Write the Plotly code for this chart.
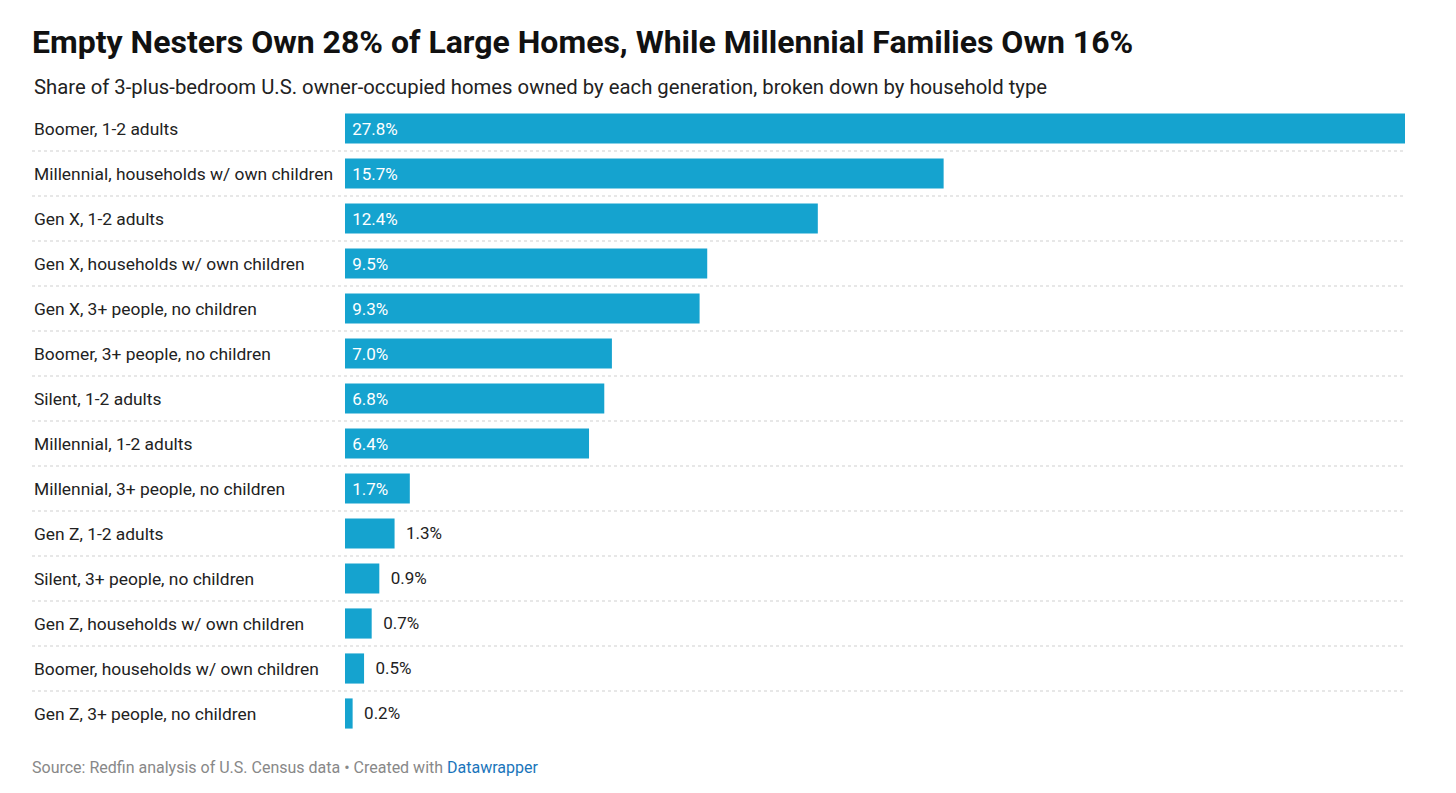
import plotly.graph_objects as go

categories = [
    "Boomer, 1-2 adults",
    "Millennial, households w/ own children",
    "Gen X, 1-2 adults",
    "Gen X, households w/ own children",
    "Gen X, 3+ people, no children",
    "Boomer, 3+ people, no children",
    "Silent, 1-2 adults",
    "Millennial, 1-2 adults",
    "Millennial, 3+ people, no children",
    "Gen Z, 1-2 adults",
    "Silent, 3+ people, no children",
    "Gen Z, households w/ own children",
    "Boomer, households w/ own children",
    "Gen Z, 3+ people, no children",
]
shares = [27.8, 15.7, 12.4, 9.5, 9.3, 7.0, 6.8, 6.4, 1.7, 1.3, 0.9, 0.7, 0.5, 0.2]

# page has an 8px body margin, so positions are offset by -8
W, H = 1456, 793
L, R, T, B = 337, 59, 98, 65
plot_w = W - L - R
plot_h = H - T - B
x_left = 24

inside = [v >= 1.5 for v in shares]
fig = go.Figure(go.Bar(
    x=shares, y=categories, orientation="h",
    marker=dict(color="#15a3cf", line=dict(width=0)),
    text=[f" {v:.1f}%" if i else f"  {v:.1f}%" for v, i in zip(shares, inside)],
    textposition=["inside" if i else "outside" for i in inside],
    insidetextanchor="start",
    textfont=dict(size=17, color=["white" if i else "#222" for i in inside]),
    cliponaxis=False,
    hoverinfo="skip",
))

# row labels, left aligned
for c in categories:
    fig.add_annotation(text=c, x=(x_left - L) / plot_w, xref="paper", y=c, yref="y",
                       xanchor="left", showarrow=False,
                       font=dict(size=17.4, color="#222"))

# dotted separators between rows
for i in range(len(categories) - 1):
    fig.add_shape(type="line", xref="paper", yref="y",
                  x0=(x_left - L) / plot_w, x1=1.0, y0=i + 0.5, y1=i + 0.5,
                  line=dict(color="#cfcfcf", width=1, dash="dot"))

fig.update_layout(
    width=W, height=H,
    margin=dict(l=L, r=R, t=T, b=B),
    paper_bgcolor="white", plot_bgcolor="white",
    font=dict(family="Roboto", color="#222"),
    bargap=0.33,
    showlegend=False,
    xaxis=dict(visible=False, range=[0, max(shares)], fixedrange=True),
    yaxis=dict(visible=False, autorange="reversed", fixedrange=True),
    title=dict(
        text="<b>Empty Nesters Own 28% of Large Homes, While Millennial Families Own 16%</b>",
        x=x_left / W, xanchor="left", y=1 - 34 / H, yanchor="middle",
        font=dict(size=32, color="#111"),
    ),
)
fig.add_annotation(
    text="Share of 3-plus-bedroom U.S. owner-occupied homes owned by each generation, broken down by household type",
    xref="paper", yref="paper", x=(x_left - L) / plot_w, y=1 + (T - 79) / plot_h,
    xanchor="left", yanchor="middle", showarrow=False, font=dict(size=20.3, color="#222"))
fig.add_annotation(
    text="Source: Redfin analysis of U.S. Census data • Created with <span style='color:#1a75bb'>Datawrapper</span>",
    xref="paper", yref="paper", x=(x_left - 2 - L) / plot_w, y=-(759 - (H - B)) / plot_h,
    xanchor="left", yanchor="middle", showarrow=False, font=dict(size=16, color="#888"))

fig.write_html("out.html")
